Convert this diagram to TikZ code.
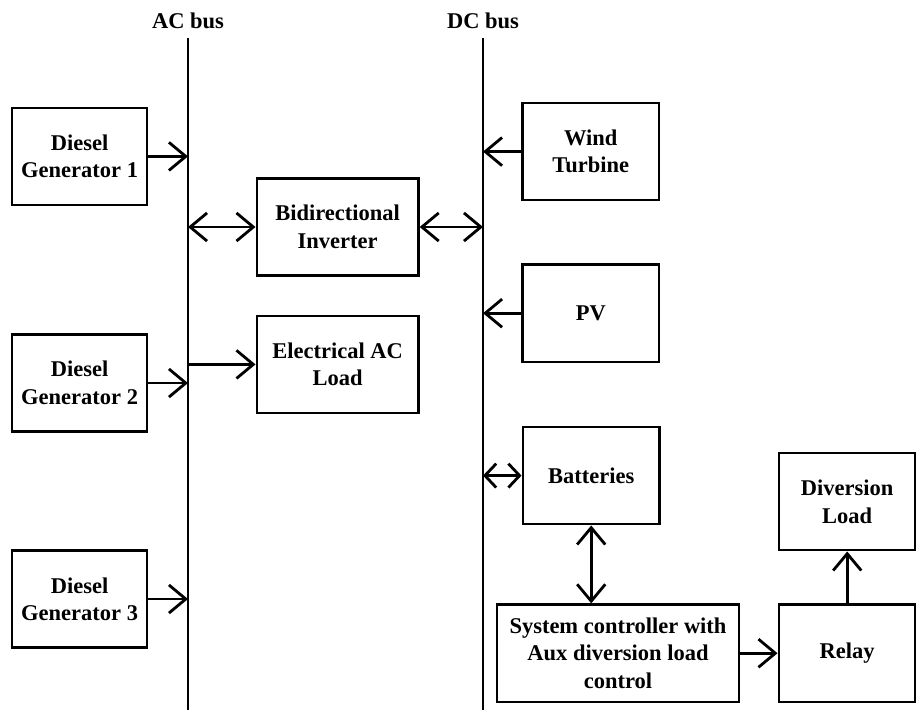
\documentclass[tikz,border=0pt]{standalone}
\usepackage{fontspec}
\setmainfont{Liberation Serif}
\usetikzlibrary{arrows.meta,positioning,calc}

\begin{document}
\begin{tikzpicture}

\tikzstyle{cell} = [rectangle, minimum width=3.42cm, minimum height=2.43cm, text centered, draw=black, line width=1.8pt, align=center, inner sep=2pt, font=\fontsize{16}{19.5}\selectfont\bfseries]
\tikzstyle{arrow} = [line width=2pt, -{Straight Barb[length=12pt,width=20pt]}]
\tikzstyle{dblarrow} = [line width=2pt, {Straight Barb[length=12pt,width=20pt]}-{Straight Barb[length=12pt,width=20pt]}]
\tikzstyle{shortdbl} = [line width=2pt, {Straight Barb[length=8pt,width=17pt]}-{Straight Barb[length=8pt,width=17pt]}]
\tikzstyle{bus} = [line width=2pt]
\tikzstyle{buslabel} = [font=\fontsize{16}{19.5}\selectfont\bfseries]

\useasboundingbox (0,0) rectangle (22.9,-17.75);

%% -----------
%% -- BUSES --
%% -----------

\coordinate (ac_top) at (4.7,-0.95);
\coordinate (ac_bot) at (4.7,-17.75);
\coordinate (dc_top) at (12.075,-0.95);
\coordinate (dc_bot) at (12.075,-17.75);

\draw [bus] (ac_top) -- (ac_bot);
\draw [bus] (dc_top) -- (dc_bot);

\node (ac_label) [buslabel, above=0.1cm of ac_top] {AC bus};
\node (dc_label) [buslabel, above=0.1cm of dc_top] {DC bus};

%% ---------------
%% -- AC SIDE --
%% ---------------

% generators
\node (gen1) [cell, minimum width=3.375cm] at (1.99,-3.91) {Diesel\\ Generator 1};
\node (gen2) [cell, minimum width=3.375cm] at (1.99,-9.575) {Diesel\\ Generator 2};
\node (gen3) [cell, minimum width=3.375cm] at (1.99,-14.975) {Diesel\\ Generator 3};

\draw [arrow] (gen1.east) -- (gen1.east -| ac_top);
\draw [arrow] (gen2.east) -- (gen2.east -| ac_top);
\draw [arrow] (gen3.east) -- (gen3.east -| ac_top);

% inverter and load
\node (inverter) [cell, minimum width=4.04cm] at (8.44,-5.675) {Bidirectional\\ Inverter};
\node (ac_load) [cell, minimum width=4.04cm] at (8.44,-9.11) {Electrical AC\\ Load};

\draw [dblarrow] (ac_top |- inverter.west) -- (inverter.west);
\draw [dblarrow] (inverter.east) -- (inverter.east -| dc_top);
\draw [arrow] (ac_top |- ac_load.west) -- (ac_load.west);

%% -------------
%% -- DC SIDE --
%% -------------

% sources
\node (wind) [cell] at (14.77,-3.79) {Wind\\ Turbine};
\node (pv) [cell] at (14.77,-7.83) {PV};
\node (batteries) [cell] at (14.78,-11.89) {Batteries};

\draw [arrow] (wind.west) -- (wind.west -| dc_top);
\draw [arrow] (pv.west) -- (pv.west -| dc_top);
\draw [shortdbl] (dc_top |- batteries.west) -- (batteries.west);

% controller
\node (controller) [cell, minimum width=6.05cm] at (15.45,-16.33) {System controller with\\ Aux diversion load\\ control};
\node (relay) [cell] at (21.18,-16.33) {Relay};
\node (div_load) [cell] at (21.18,-12.54) {Diversion\\ Load};

\draw [dblarrow] (batteries.south) -- (batteries.south |- controller.north);
\draw [arrow] (controller.east) -- (relay.west);
\draw [arrow] (relay.north) -- (div_load.south);

\end{tikzpicture}
\end{document}
